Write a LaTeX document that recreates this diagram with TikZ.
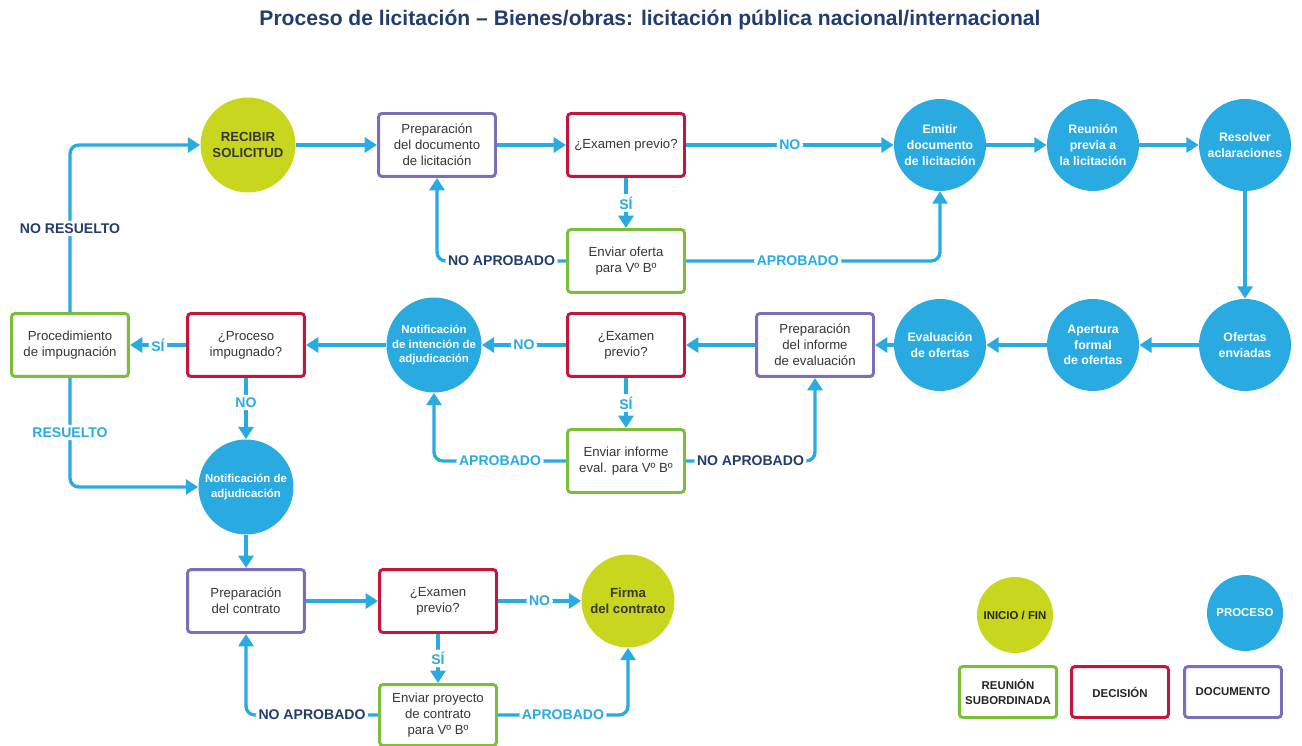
\documentclass[tikz,border=0pt]{standalone}
\usepackage{fontspec}
\setmainfont{Liberation Sans}
\usetikzlibrary{arrows.meta}
\definecolor{procblue}{RGB}{41,171,226}
\definecolor{limegreen}{RGB}{200,214,30}
\definecolor{decred}{RGB}{196,22,58}
\definecolor{meetgreen}{RGB}{122,190,60}
\definecolor{docpurple}{RGB}{125,110,185}
\definecolor{navy}{RGB}{35,60,110}
\definecolor{boxtext}{RGB}{55,55,55}
\tikzset{%
  base box/.style = {
    rectangle, rounded corners=2pt, line width=1.7pt, fill=white,
    minimum width=2.34cm, minimum height=1.26cm, align=center,
    text=boxtext, font=\fontsize{7.5}{9}\selectfont
  },
  doc box/.style = {base box, draw=docpurple},
  decision box/.style = {base box, draw=decred},
  meeting box/.style = {base box, draw=meetgreen},
  process circle/.style = {
    circle, fill=procblue, minimum size=1.84cm, inner sep=-3pt,
    align=center, text=white, font=\fontsize{7}{9}\selectfont\bfseries
  },
  startend circle/.style = {
    circle, fill=limegreen, minimum size=1.9cm, inner sep=-3pt,
    align=center, text=boxtext, font=\fontsize{7.5}{9}\selectfont\bfseries
  },
  legend box/.style = {base box, minimum width=1.94cm, minimum height=1.02cm,
    text=black!85, font=\fontsize{6.5}{8}\selectfont\bfseries},
  flow line/.style = {
    draw=procblue, line width=1.9pt, rounded corners=5pt,
    -{Triangle[length=7pt,width=8.5pt]}
  },
  yes no/.style = {fill=white, inner sep=1.5pt, text=procblue,
    font=\fontsize{8}{9}\selectfont\bfseries},
  dark label/.style = {yes no, text=navy}
}
\begin{document}
\begin{tikzpicture}[x=0.02cm, y=-0.02cm]
\useasboundingbox (0,0) rectangle (1302,746);
\node[font=\fontsize{12}{14}\selectfont\bfseries, text=navy] (title) at (650,20)
  {Proceso de licitación – Bienes/obras: licitación pública nacional/internacional};
% first row
\node[startend circle] (rec) at (248,145) {RECIBIR\\SOLICITUD};
\node[doc box] (prepdoc) at (437,145) {Preparación\\del documento\\de licitación};
\node[decision box] (exa) at (626,145) {¿Examen previo?};
\node[process circle] (emit) at (940,145) {Emitir\\documento\\de licitación};
\node[process circle] (reun) at (1093,145) {Reunión\\previa a\\la licitación};
\node[process circle] (resol) at (1245,145) {Resolver\\aclaraciones};
\node[meeting box] (oferta) at (626,261) {Enviar oferta\\para Vº Bº};
% second row
\node[meeting box] (proc) at (70,345) {Procedimiento\\de impugnación};
\node[decision box] (impug) at (246,345) {¿Proceso\\impugnado?};
\node[process circle, minimum size=1.9cm, font=\fontsize{6.5}{8.5}\selectfont\bfseries]
  (notint) at (434,345) {Notificación\\de intención de\\adjudicación};
\node[decision box] (exb) at (626,345) {¿Examen\\previo?};
\node[doc box] (prepinf) at (815,345) {Preparación\\del informe\\de evaluación};
\node[process circle] (evalof) at (940,345) {Evaluación\\de ofertas};
\node[process circle] (apert) at (1093,345) {Apertura\\formal\\de ofertas};
\node[process circle] (envi) at (1245,345) {Ofertas\\enviadas};
\node[meeting box] (informe) at (626,461) {Enviar informe\\eval. para Vº Bº};
\node[process circle, minimum size=1.9cm, font=\fontsize{6.5}{8.5}\selectfont\bfseries]
  (notadj) at (246,487) {Notificación de\\adjudicación};
% third row
\node[doc box] (prepcon) at (246,601) {Preparación\\del contrato};
\node[decision box] (exc) at (438,601) {¿Examen\\previo?};
\node[startend circle, minimum size=1.86cm] (firma) at (628,601) {Firma\\del contrato};
\node[meeting box, minimum height=1.22cm] (proyecto) at (438,715)
  {Enviar proyecto\\de contrato\\para Vº Bº};
% legend
\node[startend circle, minimum size=1.52cm, font=\fontsize{6.5}{8}\selectfont\bfseries,
  text=black!85] (legini) at (1015,615) {INICIO / FIN};
\node[process circle, minimum size=1.52cm, font=\fontsize{6.5}{8}\selectfont\bfseries]
  (legproc) at (1245,613) {PROCESO};
\node[legend box, draw=meetgreen] (legmeet) at (1008,692) {REUNIÓN\\SUBORDINADA};
\node[legend box, draw=decred] (legdec) at (1120,692) {DECISIÓN};
\node[legend box, draw=docpurple] (legdoc) at (1233,692) {DOCUMENTO};
% connectors
\draw[flow line] (rec) -- (prepdoc);
\draw[flow line] (prepdoc) -- (exa);
\draw[flow line] (exa) -- node[yes no]{NO} (emit);
\draw[flow line] (emit) -- (reun);
\draw[flow line] (reun) -- (resol);
\draw[flow line] (resol) -- (envi);
\draw[flow line] (exa) -- node[yes no]{SÍ} (oferta);
\draw[flow line] (oferta.west) -| node[dark label, pos=0.25]{NO APROBADO} (prepdoc.south);
\draw[flow line] (oferta.east) -| node[yes no, pos=0.22]{APROBADO} (emit.south);
\draw[flow line] (envi) -- (apert);
\draw[flow line] (apert) -- (evalof);
\draw[flow line] (evalof) -- (prepinf);
\draw[flow line] (prepinf) -- (exb);
\draw[flow line] (exb) -- node[yes no]{NO} (notint);
\draw[flow line] (notint) -- (impug);
\draw[flow line] (impug) -- node[yes no]{SÍ} (proc);
\draw[flow line] (impug) -- node[yes no, pos=0.4]{NO} (notadj);
\draw[flow line] (proc.north) |- node[dark label, pos=0.25]{NO RESUELTO} (rec.west);
\draw[flow line] (proc.south) |- node[yes no, pos=0.25]{RESUELTO} (notadj.west);
\draw[flow line] (exb) -- node[yes no]{SÍ} (informe);
\draw[flow line] (informe.west) -| node[yes no, pos=0.25]{APROBADO} (notint.south);
\draw[flow line] (informe.east) -| node[dark label, pos=0.25]{NO APROBADO} (prepinf.south);
\draw[flow line] (notadj) -- (prepcon);
\draw[flow line] (prepcon) -- (exc);
\draw[flow line] (exc) -- node[yes no]{NO} (firma);
\draw[flow line] (exc) -- node[yes no]{SÍ} (proyecto);
\draw[flow line] (proyecto.west) -| node[dark label, pos=0.25]{NO APROBADO} (prepcon.south);
\draw[flow line] (proyecto.east) -| node[yes no, pos=0.25]{APROBADO} (firma.south);
\end{tikzpicture}
\end{document}
